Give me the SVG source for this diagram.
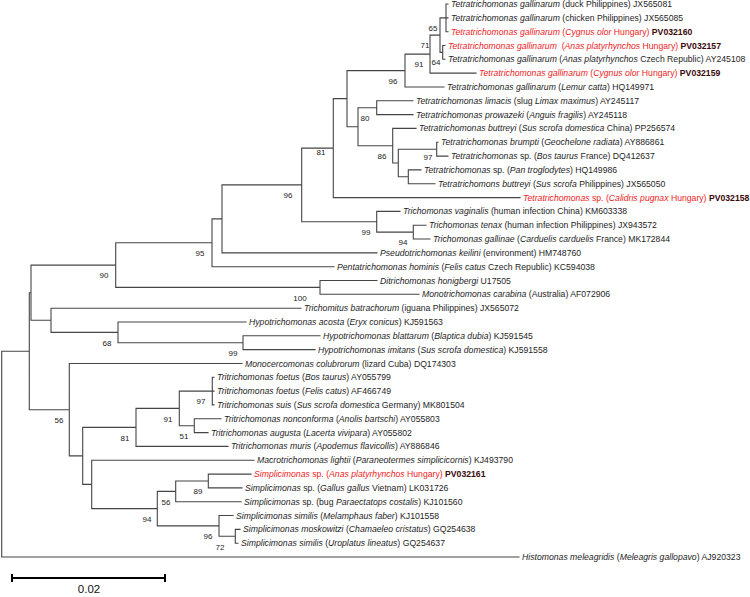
<svg xmlns="http://www.w3.org/2000/svg" width="750" height="597" viewBox="0 0 750 597">
<style>
.ln{fill:none;stroke:#454545;stroke-width:1.1;stroke-linecap:square}
text{font-family:"Liberation Sans",Arial,sans-serif}
.t{font-size:8.66px;fill:#1e1e1e}
.r{fill:#ee1c25}
.i{font-style:italic}
.b{font-weight:bold;fill:#3a0a0a}
.bs{font-size:8px;fill:#222;text-anchor:middle}
</style>
<rect width="750" height="597" fill="#fff"/>
<g id="connectors">
<path class="ln" d="M1.7,351.2V557M1.7,351.2H29.3M1.7,557H519
M29.3,292.7V409.7M29.3,292.7H31M29.3,409.7H69.3
M31,265.1V320.3M31,265.1H115.7M31,320.3H51
M115.7,242.8V287.4M115.7,242.8H212M115.7,287.4H320
M212,218.9V266.7M212,218.9H222M212,266.7H334
M222,184.9V252.9M222,184.9H301.7M222,252.9H377
M301.7,148.1V221.8M301.7,148.1H333.3M301.7,221.8H376.7
M333.3,98.6V197.6M333.3,98.6H347M333.3,197.6H520
M347,70.6V126.7M347,70.6H405M347,126.7H358
M405,54.1V87M405,54.1H430M405,87H444
M430,35.1V73.1M430,35.1H440M430,73.1H476
M440,17.9V52.4M440,17.9H446M440,52.4H442.7
M446,4V31.7M446,4H448M446,17.9H448M446,31.7H448
M442.7,45.5V59.3M442.7,45.5H445M442.7,59.3H445
M358,107.7V145.7M358,107.7H376.7M358,145.7H392.7
M376.7,100.8V114.6M376.7,100.8H413M376.7,114.6H413
M392.7,128.4V163M392.7,128.4H416M392.7,163H398.3
M398.3,149.2V176.8M398.3,149.2H436.7M398.3,176.8H408.3
M436.7,142.3V156.1M436.7,142.3H438M436.7,156.1H448
M408.3,169.9V183.7M408.3,169.9H421M408.3,183.7H435
M376.7,211.4V232.1M376.7,211.4H400M376.7,232.1H413.3
M413.3,225.2V239M413.3,225.2H426M413.3,239H430
M320,280.5V294.3M320,280.5H377M320,294.3H419
M51,308.2V332.4M51,308.2H301M51,332.4H118
M118,322V342.7M118,322H246M118,342.7H243
M243,335.8V349.6M243,335.8H320M243,349.6H315
M69.3,363.5V455.9M69.3,363.5H242M69.3,455.9H82.7
M82.7,427.4V484.4M82.7,427.4H136M82.7,484.4H91.7
M136,408.4V446.4M136,408.4H179.3M136,446.4H228
M179.3,391.1V425.7M179.3,391.1H212.3M179.3,425.7H194.3
M212.3,377.3V404.9M212.3,377.3H214M212.3,391.1H214M212.3,404.9H214
M194.3,418.8V432.6M194.3,418.8H221M194.3,432.6H208
M91.7,460.2V508.6M91.7,460.2H254M91.7,508.6H157.3
M157.3,491.4V525.9M157.3,491.4H175.7M157.3,525.9H219
M175.7,481V501.7M175.7,481H208.3M175.7,501.7H241
M208.3,474.1V487.9M208.3,474.1H251M208.3,487.9H242
M219,515.5V536.3M219,515.5H233M219,536.3H235.3
M235.3,529.4V543.2M235.3,529.4H240M235.3,543.2H238"/>
</g>
<g id="leaves" class="t">
<text id="l0" x="451" y="7"><tspan class="i">Tetratrichomonas gallinarum</tspan> (duck Philippines) JX565081</text>
<text id="l1" x="451" y="20.8"><tspan class="i">Tetratrichomonas gallinarum</tspan> (chicken Philippines) JX565085</text>
<text id="l2" x="451" y="34.7" class="r"><tspan class="i">Tetratrichomonas gallinarum</tspan> (<tspan class="i">Cygnus olor</tspan> Hungary) <tspan class="b">PV032160</tspan></text>
<text id="l3" x="448" y="48.5" class="r"><tspan class="i">Tetratrichomonas gallinarum</tspan> <tspan dx="2.4">(</tspan><tspan class="i">Anas platyrhynchos</tspan> Hungary) <tspan class="b">PV032157</tspan></text>
<text id="l4" x="448" y="62.3"><tspan class="i">Tetratrichomonas gallinarum</tspan> (<tspan class="i">Anas platyrhynchos</tspan> Czech Republic) AY245108</text>
<text id="l5" x="479" y="76.1" class="r"><tspan class="i">Tetratrichomonas gallinarum</tspan> (<tspan class="i">Cygnus olor</tspan> Hungary) <tspan class="b">PV032159</tspan></text>
<text id="l6" x="447" y="90"><tspan class="i">Tetratrichomonas gallinarum</tspan> (<tspan class="i">Lemur catta</tspan>) HQ149971</text>
<text id="l7" x="416" y="103.8"><tspan class="i">Tetratrichomonas limacis</tspan> (slug <tspan class="i">Limax maximus</tspan>) AY245117</text>
<text id="l8" x="416" y="117.6"><tspan class="i">Tetratrichomonas prowazeki</tspan> (<tspan class="i">Anguis fragilis</tspan>) AY245118</text>
<text id="l9" x="419" y="131.4"><tspan class="i">Tetratrichomonas buttreyi</tspan> (<tspan class="i">Sus scrofa domestica</tspan> China) PP256574</text>
<text id="l10" x="441" y="145.3"><tspan class="i">Tetratrichomonas brumpti</tspan> (<tspan class="i">Geochelone radiata</tspan>) AY886861</text>
<text id="l11" x="451" y="159.1"><tspan class="i">Tetratrichomonas</tspan> sp. (<tspan class="i">Bos taurus</tspan> France) DQ412637</text>
<text id="l12" x="424" y="172.9"><tspan class="i">Tetratrichomonas</tspan> sp. (<tspan class="i">Pan troglodytes</tspan>) HQ149986</text>
<text id="l13" x="438" y="186.7"><tspan class="i">Tetratrichomons buttreyi</tspan> (<tspan class="i">Sus scrofa</tspan> Philippines) JX565050</text>
<text id="l14" x="523" y="200.6" class="r"><tspan class="i">Tetratrichomonas</tspan> sp. (<tspan class="i">Calidris pugnax</tspan> Hungary) <tspan class="b">PV032158</tspan></text>
<text id="l15" x="403" y="214.4"><tspan class="i">Trichomonas vaginalis</tspan> (human infection China) KM603338</text>
<text id="l16" x="429" y="228.2"><tspan class="i">Trichomonas tenax</tspan> (human infection Philippines) JX943572</text>
<text id="l17" x="433" y="242"><tspan class="i">Trichomonas gallinae</tspan> (<tspan class="i">Carduelis carduelis</tspan> France) MK172844</text>
<text id="l18" x="380" y="255.9"><tspan class="i">Pseudotrichomonas keilini</tspan> (environment) HM748760</text>
<text id="l19" x="337" y="269.7"><tspan class="i">Pentatrichomonas hominis</tspan> (<tspan class="i">Felis catus</tspan> Czech Republic) KC594038</text>
<text id="l20" x="380" y="283.5"><tspan class="i">Ditrichomonas honigbergi</tspan> U17505</text>
<text id="l21" x="422" y="297.3"><tspan class="i">Monotrichomonas carabina</tspan> (Australia) AF072906</text>
<text id="l22" x="304" y="311.2"><tspan class="i">Trichomitus batrachorum</tspan> (iguana Philippines) JX565072</text>
<text id="l23" x="249" y="325"><tspan class="i">Hypotrichomonas acosta</tspan> (<tspan class="i">Eryx conicus</tspan>) KJ591563</text>
<text id="l24" x="323" y="338.8"><tspan class="i">Hypotrichomonas blattarum</tspan> (<tspan class="i">Blaptica dubia</tspan>) KJ591545</text>
<text id="l25" x="318" y="352.6"><tspan class="i">Hypotrichomonas imitans</tspan> (<tspan class="i">Sus scrofa domestica</tspan>) KJ591558</text>
<text id="l26" x="245" y="366.5"><tspan class="i">Monocercomonas colubrorum</tspan> (lizard Cuba) DQ174303</text>
<text id="l27" x="217" y="380.3"><tspan class="i">Tritrichomonas foetus</tspan> (<tspan class="i">Bos taurus</tspan>) AY055799</text>
<text id="l28" x="217" y="394.1"><tspan class="i">Tritrichomonas foetus</tspan> (<tspan class="i">Felis catus</tspan>) AF466749</text>
<text id="l29" x="217" y="407.9"><tspan class="i">Tritrichomonas suis</tspan> (<tspan class="i">Sus scrofa domestica</tspan> Germany) MK801504</text>
<text id="l30" x="224" y="421.8"><tspan class="i">Tritrichomonas nonconforma</tspan> (<tspan class="i">Anolis bartschi</tspan>) AY055803</text>
<text id="l31" x="211" y="435.6"><tspan class="i">Tritrichomonas augusta</tspan> (<tspan class="i">Lacerta vivipara</tspan>) AY055802</text>
<text id="l32" x="231" y="449.4"><tspan class="i">Tritrichomonas muris</tspan> (<tspan class="i">Apodemus flavicollis</tspan>) AY886846</text>
<text id="l33" x="257" y="463.2"><tspan class="i">Macrotrichomonas lightii</tspan> (<tspan class="i">Paraneotermes simplicicornis</tspan>) KJ493790</text>
<text id="l34" x="254" y="477.1" class="r"><tspan class="i">Simplicimonas</tspan> sp. (<tspan class="i">Anas platyrhynchos</tspan> Hungary) <tspan class="b">PV032161</tspan></text>
<text id="l35" x="245" y="490.9"><tspan class="i">Simplicimonas</tspan> sp. (<tspan class="i">Gallus gallus</tspan> Vietnam) LK031726</text>
<text id="l36" x="244" y="504.7"><tspan class="i">Simplicimonas</tspan> sp. (bug <tspan class="i">Paraectatops costalis</tspan>) KJ101560</text>
<text id="l37" x="236" y="518.5"><tspan class="i">Simplicimonas similis</tspan> (<tspan class="i">Melamphaus faber</tspan>) KJ101558</text>
<text id="l38" x="243" y="532.4"><tspan class="i">Simplicimonas moskowitzi</tspan> (<tspan class="i">Chamaeleo cristatus</tspan>) GQ254638</text>
<text id="l39" x="241" y="546.2"><tspan class="i">Simplicimonas similis</tspan> (<tspan class="i">Uroplatus lineatus</tspan>) GQ254637</text>
<text id="l40" x="522" y="560"><tspan class="i">Histomonas meleagridis</tspan> (<tspan class="i">Meleagris gallopavo</tspan>) AJ920323</text>
</g>
<g id="bootstrap" class="bs">
<text x="433" y="31">65</text>
<text x="425" y="48">71</text>
<text x="436" y="65.4">64</text>
<text x="419" y="67">91</text>
<text x="393" y="83.6">96</text>
<text x="365" y="120.7">80</text>
<text x="382" y="158.7">86</text>
<text x="428" y="160">97</text>
<text x="321" y="155">81</text>
<text x="288" y="198">96</text>
<text x="366" y="235">99</text>
<text x="403" y="245">94</text>
<text x="200" y="256">95</text>
<text x="104" y="278">90</text>
<text x="300" y="300.5">100</text>
<text x="107" y="345.5">68</text>
<text x="233" y="356">99</text>
<text x="59" y="423">56</text>
<text x="201" y="404">97</text>
<text x="168" y="421.5">91</text>
<text x="125" y="440.5">81</text>
<text x="184" y="439">51</text>
<text x="198" y="494">89</text>
<text x="166" y="504.5">56</text>
<text x="147" y="521.5">94</text>
<text x="208" y="539">96</text>
<text x="220" y="549.5">72</text>
</g>
<g id="scalebar">
<path d="M12,578H165M12,574V582M165,574V582" fill="none" stroke="#000" stroke-width="2"/>
<text x="89" y="593" font-size="11.5" text-anchor="middle" fill="#111">0.02</text>
</g>
</svg>
